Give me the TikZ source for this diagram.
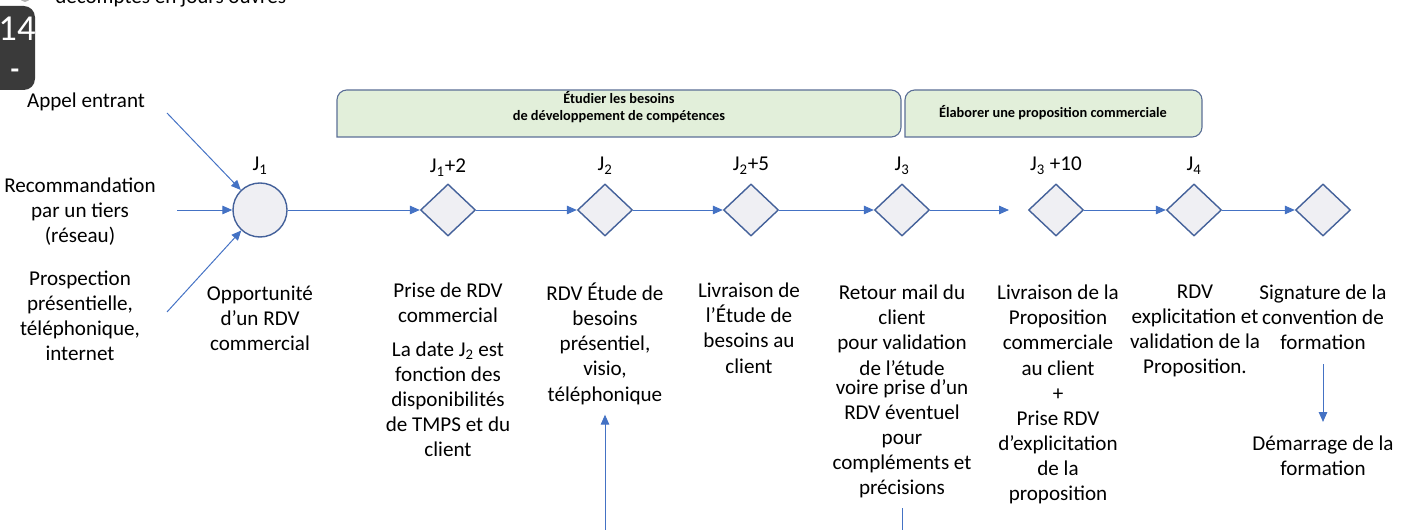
\documentclass[tikz,border=0pt]{standalone}
\usepackage{fontspec}
\setmainfont{Carlito}
\usetikzlibrary{shapes.geometric,arrows.meta}
\definecolor{lineblue}{HTML}{4472C4}
\definecolor{edgeblue}{HTML}{44619A}
\definecolor{phaseedge}{HTML}{5B6F96}
\definecolor{boxgreen}{HTML}{E2EFDA}
\definecolor{nodegrey}{HTML}{EFEFF3}
\definecolor{tabgrey}{HTML}{3A3A3A}

\begin{document}
\begin{tikzpicture}[x=0.025cm, y=-0.025cm,
        flow/.style={draw=lineblue, line width=0.7pt, -{Triangle[length=7pt,width=6pt]}},
        mile/.style={diamond, draw=edgeblue, fill=nodegrey, line width=1pt,
            minimum width=1.375cm, minimum height=1.3cm, inner sep=0pt},
        lbl/.style={align=center, anchor=north, inner sep=0pt,
            font=\fontsize{15}{17.8}\selectfont},
        day/.style={anchor=base, inner sep=0pt, font=\fontsize{15}{17.8}\selectfont},
        phase/.style={draw=phaseedge, fill=boxgreen, line width=0.8pt},
        phasetxt/.style={align=center, font=\fontsize{10.2}{12}\selectfont\bfseries}]
        \useasboundingbox (0,0) rectangle (1408,530);
        \clip (0,0) rectangle (1408,530);

        % Cut-off header
        \fill[gray!60] (25,-3) circle (5);
        \node[anchor=base west, inner sep=0pt, font=\fontsize{15}{18}\selectfont] (head) at (55,4) {décomptes en jours ouvrés};
        \fill[tabgrey, rounded corners=8] (-12,6) rectangle (35,90);
        \node[white, font=\fontsize{26}{28}\selectfont] (tabnum) at (17,29) {14};
        \node[white, font=\fontsize{20}{22}\selectfont\bfseries] (tabdash) at (15,74) {-};

        % Phases
        \draw[phase] (337,137) [rounded corners=7] -- (337,90) -- (901,90) -- (901,137) [sharp corners] -- cycle;
        \node[phasetxt] (ph1) at (619,107) {Étudier les besoins\\de développement de compétences};
        \draw[phase] (905,137) [rounded corners=7] -- (905,90) -- (1202,90) -- (1202,137) [sharp corners] -- cycle;
        \node[phasetxt] (ph2) at (1053,113) {Élaborer une proposition commerciale};

        % Sources
        \node[lbl] (in1) at (86,93) {Appel entrant};
        \node[lbl] (in2) at (80,178) {Recommandation\\par un tiers\\(réseau)};
        \node[lbl] (in3) at (80,271) {Prospection\\présentielle,\\téléphonique,\\internet};
        \coordinate (s1) at (167,113);
        \coordinate (s2) at (177,210);
        \coordinate (s3) at (167,312);

        % Milestones
        \node[circle, draw=edgeblue, fill=nodegrey, line width=1pt, minimum size=1.35cm, inner sep=0pt] (opp) at (260,210) {};
        \node[mile] (d1) at (448,210) {};
        \node[mile] (d2) at (605,210) {};
        \node[mile] (d3) at (751,210) {};
        \node[mile] (d4) at (902,210) {};
        \node[mile] (d5) at (1056,210) {};
        \node[mile] (d6) at (1194,210) {};
        \node[mile] (d7) at (1323,210) {};

        % Days
        \node[day] (j0) at (260,171) {J\textsubscript{1}};
        \node[day] (j1) at (448,173) {J\textsubscript{1}+2};
        \node[day] (j2) at (605,171) {J\textsubscript{2}};
        \node[day] (j3) at (751,171) {J\textsubscript{2}+5};
        \node[day] (j4) at (902,171) {J\textsubscript{3}};
        \node[day] (j5) at (1056,171) {J\textsubscript{3} +10};
        \node[day] (j6) at (1194,171) {J\textsubscript{4}};

        % Steps
        \node[lbl] (l0) at (260,286) {Opportunité\\d’un RDV\\commercial};
        \node[lbl] (l1) at (448,283) {Prise de RDV\\commercial\\[6pt]La date J\textsubscript{2} est\\fonction des\\disponibilités\\de TMPS et du\\client};
        \node[lbl] (l2) at (605,283) {RDV Étude de\\besoins\\présentiel,\\visio,\\téléphonique};
        \node[lbl] (l3) at (749,283) {Livraison de\\l’Étude de\\besoins au\\client};
        \node[lbl] (l4) at (902,285) {Retour mail du\\client\\pour validation\\de l’étude\\[-4pt]voire prise d’un\\RDV éventuel\\pour\\compléments et\\précisions};
        \node[lbl] (l5) at (1058,285) {Livraison de la\\Proposition\\commerciale\\au client\\+\\Prise RDV\\d’explicitation\\de la\\proposition};
        \node[lbl] (l6) at (1195,285) {RDV\\explicitation et\\validation de la\\Proposition.};
        \node[lbl] (l7) at (1323,285) {Signature de la\\convention de\\formation};
        \node[lbl] (l8) at (1323,436) {Démarrage de la\\formation};
        \coordinate (b2) at (605,530);
        \coordinate (b4) at (902,530);

        % Connectors
        \draw[flow] (s1) -- (opp);
        \draw[flow] (s2) -- (opp);
        \draw[flow] (s3) -- (opp);
        \draw[flow] (opp) -- (d1);
        \draw[flow] (d1) -- (d2);
        \draw[flow] (d2) -- (d3);
        \draw[flow] (d3) -- (d4);
        \draw[flow, shorten >=0.47cm] (d4) -- (d5);
        \draw[flow] (d5) -- (d6);
        \draw[flow] (d6) -- (d7);
        \draw[flow, shorten >=0.25cm] (b2) -- (l2);
        \draw[draw=lineblue, line width=0.7pt, shorten <=0.25cm] (l4) -- (b4);
        \draw[flow, shorten <=0.35cm, shorten >=0.35cm] (l7) -- (l8);

    \end{tikzpicture}
\end{document}
